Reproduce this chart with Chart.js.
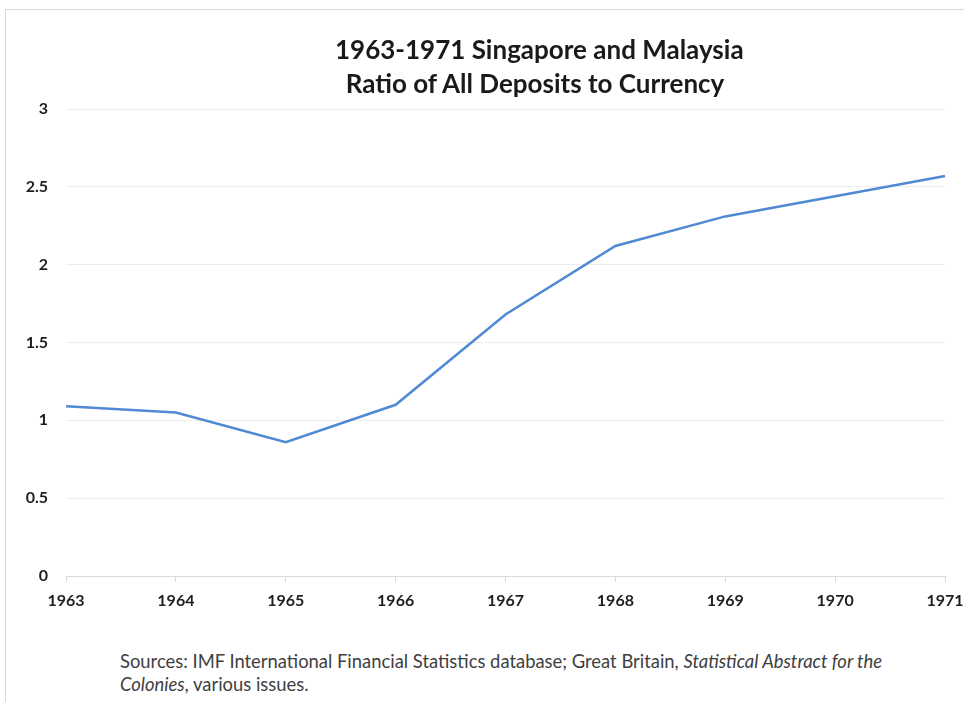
<!DOCTYPE html>
<html>
<head>
<meta charset="utf-8">
<script src="https://cdn.jsdelivr.net/npm/chart.js@4"></script>
<style>
  body { margin: 0; background: #fff; }
  #frame { position: absolute; left: 5px; top: 9px; width: 970px; height: 700px; border: 1px solid #d9d9d9; box-sizing: border-box; }
  #wrap { position: absolute; left: 0; top: 0; width: 964px; height: 620px; }
  #title { position: absolute; left: 335px; top: 32px; width: 400px; text-align: center; font-family: Lato, "Open Sans", sans-serif; font-weight: bold; font-size: 26px; line-height: 34px; color: #1a1a1a; white-space: nowrap; }
  #note { position: absolute; left: 120px; top: 650px; font-family: Lato, "Open Sans", sans-serif; font-size: 18.4px; line-height: 23px; color: #404040; white-space: nowrap; }
</style>
</head>
<body>
<div id="frame"></div>
<div id="wrap"><canvas id="myChart"></canvas></div>
<div id="title"></div>
<div id="note">Sources: IMF International Financial Statistics database; Great Britain, <i>Statistical Abstract for the</i><br><i>Colonies</i>, various issues.</div>
<script>
// years on the x-axis
let years = ['1963', '1964', '1965', '1966', '1967', '1968', '1969', '1970', '1971'];
// ratio of all deposits to currency
let ratio = [1.09, 1.05, 0.86, 1.10, 1.68, 2.12, 2.31, 2.44, 2.57];
let titleLines = ['1963-1971 Singapore and Malaysia', 'Ratio of All Deposits to Currency'];

document.getElementById('title').innerHTML = titleLines.join('<br>');

let ctx = document.getElementById('myChart');

let myChart = new Chart(ctx, {
    type: 'line',
    data: {
        labels: years,
        datasets: [
            {
                label: 'Ratio',
                data: ratio,
                borderColor: '#5089d4',
                borderWidth: 2.5,
                pointRadius: 0,
                tension: 0,
                fill: false
            }
        ]
    },
    options: {
        responsive: true,
        maintainAspectRatio: false,
        animation: false,
        layout: { padding: { left: 10, right: 19, top: 109, bottom: 4 } },
        plugins: {
            legend: { display: false },
            tooltip: { enabled: false },
            title: { display: false }
        },
        scales: {
            x: {
                offset: false,
                grid: { drawOnChartArea: false, drawTicks: true, tickLength: 6, color: '#d9d9d9' },
                border: { color: '#d9d9d9' },
                ticks: { color: '#1f1f1f', padding: 9, maxRotation: 0, font: { family: 'Lato, "Open Sans", sans-serif', size: 16, weight: 'bold' } },
                afterFit: function (scale) {
                    scale.height = 40;
                    scale.paddingLeft = 0;
                    scale.paddingRight = 0;
                }
            },
            y: {
                min: 0,
                max: 3,
                ticks: {
                    stepSize: 0.5,
                    color: '#1f1f1f',
                    padding: 18,
                    font: { family: 'Lato, "Open Sans", sans-serif', size: 16, weight: 'bold' },
                    callback: function (v) { return String(v); }
                },
                grid: { color: '#ececec', drawTicks: false },
                border: { display: false },
                afterFit: function (scale) { scale.width = 56; }
            }
        }
    }
});
</script>
</body>
</html>
